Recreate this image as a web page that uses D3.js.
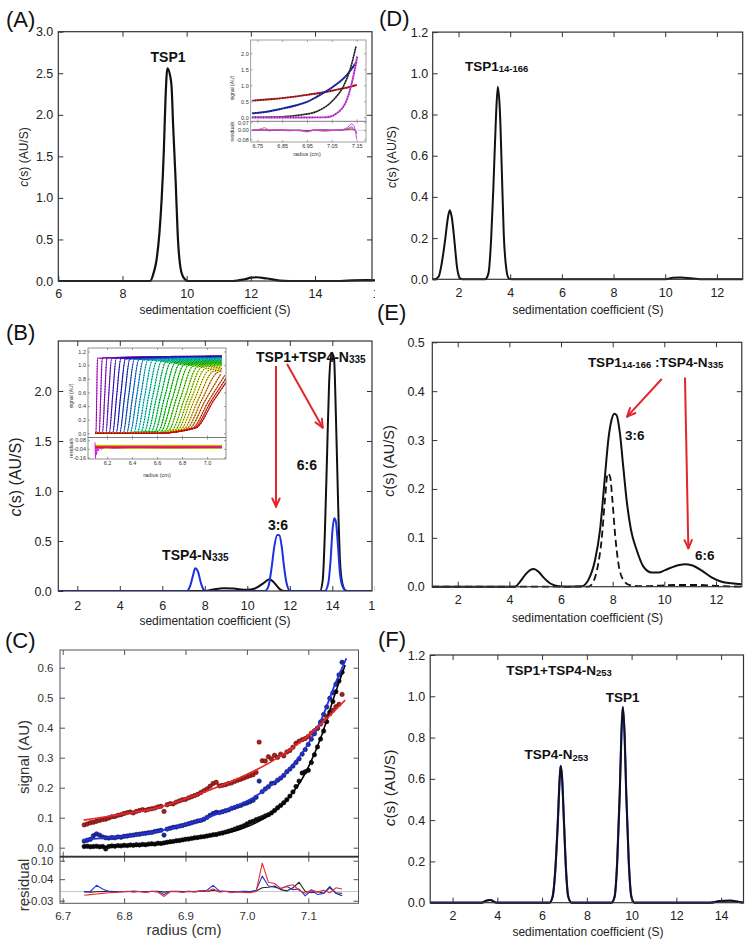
<!DOCTYPE html>
<html><head><meta charset="utf-8">
<script src="https://cdn.jsdelivr.net/npm/d3@7/dist/d3.min.js"></script>
<style>html,body{margin:0;padding:0;background:#fff;}svg{display:block}</style>
</head><body>
<svg id="fig" width="751" height="943" xmlns="http://www.w3.org/2000/svg"></svg>
<script>
// ================= DATA =================
// (A) c(s) distribution, TSP1  [s (S), c(s)]
const csA = [[6,0],[8.86,0],[8.98,0.11],[9.06,0.25],[9.15,0.57],[9.22,0.98],[9.29,1.58],[9.34,2.18],[9.40,2.56],[9.48,2.48],[9.53,2.34],[9.58,1.86],[9.66,1.18],[9.72,0.57],[9.79,0.21],[9.89,0.05],[10.05,0],[11.45,0],[11.8,0.02],[12.02,0.04],[12.18,0.045],[12.5,0.03],[12.9,0.005],[13.2,0],[14.8,0],[15.2,0.008],[15.6,0.01],[16,0.006]];
// (A) inset: radius vs signal
const insAred = [[6.73,0.52],[6.80,0.565],[6.85,0.60],[6.90,0.645],[6.95,0.70],[7.00,0.76],[7.05,0.83],[7.10,0.91],[7.15,1.01]];
const insAblue = [[6.73,0.125],[6.80,0.19],[6.855,0.28],[6.90,0.36],[6.95,0.48],[6.989,0.64],[7.056,0.96],[7.11,1.32],[7.15,1.74]];
const insAblack = [[6.73,0.0],[6.85,0.02],[6.922,0.07],[6.989,0.18],[7.056,0.54],[7.096,0.96],[7.123,1.48],[7.147,2.21]];
const insAmag = [[6.73,-0.01],[6.95,-0.005],[7.029,0.0],[7.07,0.125],[7.11,0.54],[7.13,1.06],[7.147,1.69],[7.152,1.9]];
const insAresR = [6.73,6.76,6.78,6.80,6.84,6.88,6.92,6.95,6.98,7.02,7.06,7.09,7.11,7.13,7.14,7.15];
const insAresRed = [0,0.01,0.022,0.0,0.005,0,-0.005,-0.015,0.0,-0.01,0.0,0.005,0.01,0.02,0.0,-0.01];
const insAresMag = [0.005,0,0,0.005,0,-0.005,0,-0.01,0.005,0,0,0.005,0.02,0.055,0.035,-0.08];
const insAresBlue = [0,0.005,0,-0.005,0.005,0,0,-0.01,0,0.005,0,0,0.01,0.03,0.01,-0.03];
const insAresBlack = [0,0,0.003,0,0,0,0,-0.003,0,0,0,0.003,0.005,0.01,0.0,-0.02];

// (B) c(s) TSP1+TSP4-N335 (black) and TSP4-N335 (blue)
const csBblack = [[1.1,0],[7.9,0],[8.4,0.015],[8.87,0.027],[9.34,0.024],[9.97,0.012],[10.36,0.025],[10.75,0.077],[11.04,0.117],[11.22,0.093],[11.54,0.017],[11.77,0],[13.42,0],[13.55,0.11],[13.65,0.58],[13.76,1.41],[13.85,2.08],[13.97,2.38],[14.08,2.33],[14.17,1.75],[14.27,0.91],[14.36,0.31],[14.47,0.077],[14.64,0.003],[14.8,0],[16,0]];
const csBblue = [[1.1,0],[7.15,0],[7.30,0.043],[7.43,0.143],[7.55,0.227],[7.68,0.193],[7.82,0.077],[7.96,0.01],[8.12,0],[10.83,0],[10.99,0.043],[11.15,0.243],[11.27,0.443],[11.41,0.56],[11.51,0.557],[11.62,0.443],[11.73,0.243],[11.85,0.077],[12.01,0.003],[12.2,0],[13.65,0],[13.81,0.077],[13.92,0.31],[14.01,0.61],[14.09,0.727],[14.17,0.693],[14.27,0.443],[14.36,0.177],[14.49,0.043],[14.68,0],[16,0]];
// (B) inset: sedimentation velocity scans (read per scan)
const scanMid = [6.118,6.150,6.182,6.214,6.246,6.278,6.310,6.342,6.374,6.406,6.438,6.470,6.502,6.534,6.566,6.598,6.630,6.662,6.694,6.726,6.758,6.790,6.822,6.850,6.875,6.902,6.930,6.958,6.985,7.012,7.032,7.050];
const scanHalfWidth = [0.006,0.012,0.018,0.023,0.028,0.033,0.037,0.041,0.045,0.049,0.053,0.057,0.061,0.065,0.069,0.073,0.077,0.081,0.085,0.089,0.093,0.097,0.101,0.105,0.109,0.113,0.117,0.121,0.125,0.129,0.133,0.137];
const scanPlateau = [1.13,1.135,1.135,1.13,1.13,1.125,1.12,1.12,1.115,1.11,1.105,1.10,1.095,1.09,1.08,1.07,1.06,1.05,1.04,1.03,1.02,1.01,1.00,0.99,0.97,0.95,0.93,0.91,0.89,0.87,0.86,0.86];
const scanBase = [0,0,0,0,0,0,0,0,0,0,0,0,0.005,0.008,0.012,0.016,0.02,0.024,0.028,0.032,0.036,0.04,0.044,0.048,0.052,0.056,0.06,0.064,0.068,0.072,0.076,0.08];
const scanResOffset = [-0.01,-0.02,-0.005,-0.015,0.0,-0.025,-0.01,0.005,-0.02,-0.03,-0.01,0.0,-0.015,-0.025,0.005,-0.01,-0.02,-0.03,0.0,-0.015,-0.005,-0.025,-0.01,0.008,-0.02,-0.03,-0.005,-0.015,0.0,-0.025,-0.01,-0.02];
const scanResFirstR = [6.104,6.108,6.112,6.116,6.122,6.13,6.14,6.155,6.18,6.25,6.4,6.7,7.118];
const scanResFirstV = [0.05,-0.17,-0.02,-0.12,-0.03,-0.07,-0.02,-0.045,-0.015,-0.03,-0.02,-0.025,-0.02];

// (C) absorbance data, fits and residuals
const cRadius = [6.735,6.740,6.745,6.750,6.755,6.760,6.765,6.770,6.775,6.780,
6.785,6.790,6.795,6.800,6.805,6.810,6.815,6.820,6.825,6.830,
6.835,6.840,6.845,6.850,6.855,6.860,6.865,6.870,6.875,6.880,
6.885,6.890,6.895,6.900,6.905,6.910,6.915,6.920,6.925,6.930,
6.935,6.940,6.945,6.950,6.955,6.960,6.965,6.970,6.975,6.980,
6.985,6.990,6.995,7.000,7.005,7.010,7.015,7.020,7.025,7.030,
7.035,7.040,7.045,7.050,7.055,7.060,7.065,7.070,7.075,7.080,
7.085,7.090,7.095,7.100,7.105,7.110,7.115,7.120,7.125,7.130,
7.135,7.140,7.145,7.150,7.155];
const cRedDots = [0.076,0.079,0.083,0.085,0.088,0.091,0.094,0.095,0.099,0.103,
0.104,0.108,0.110,0.114,0.117,0.119,0.116,0.121,0.124,0.127,
0.125,0.128,0.130,0.132,0.136,0.138,0.121,0.143,0.147,0.146,
0.152,0.156,0.160,0.161,0.166,0.170,0.174,0.178,0.184,0.190,
0.196,0.205,0.214,0.218,0.206,0.208,0.210,0.214,0.216,0.221,
0.225,0.228,0.232,0.236,0.240,0.243,0.251,0.352,0.290,0.289,
0.303,0.296,0.308,0.301,0.312,0.306,0.319,0.324,0.335,0.348,
0.355,0.360,0.364,0.371,0.382,0.390,0.398,0.412,0.423,0.437,
0.446,0.458,0.470,0.478,0.511];
const cBlueDots = [0.022,0.025,0.028,0.040,0.046,0.042,0.036,0.033,0.032,0.034,
0.033,0.036,0.035,0.038,0.039,0.041,0.042,0.044,0.045,0.047,
0.048,0.050,0.051,0.054,0.056,0.058,0.042,0.062,0.065,0.068,
0.069,0.072,0.074,0.077,0.080,0.083,0.086,0.089,0.091,0.095,
0.101,0.108,0.114,0.118,0.117,0.120,0.123,0.126,0.131,0.134,
0.138,0.141,0.146,0.149,0.153,0.158,0.168,0.222,0.187,0.196,
0.203,0.214,0.216,0.225,0.232,0.241,0.253,0.262,0.272,0.284,
0.296,0.312,0.327,0.344,0.362,0.380,0.398,0.419,0.444,0.469,
0.498,0.516,0.545,0.576,0.618];
const cBlackDots = [0.004,0.005,0.003,0.004,0.005,0.003,0.004,-0.004,0.004,0.006,
0.005,0.007,0.006,0.008,0.007,0.009,0.008,0.010,0.009,0.011,
0.010,0.012,0.013,0.012,0.015,0.014,0.016,0.018,0.020,0.021,
0.023,0.024,0.026,0.028,0.029,0.031,0.033,0.034,0.036,0.037,
0.039,0.041,0.043,0.044,0.047,0.049,0.052,0.055,0.058,0.062,
0.066,0.069,0.073,0.079,0.085,0.088,0.093,0.097,0.101,0.106,
0.110,0.116,0.124,0.133,0.141,0.150,0.160,0.172,0.186,0.204,
0.222,0.249,0.253,0.258,0.284,0.310,0.336,0.362,0.389,0.420,
0.452,0.487,0.520,0.556,0.585];
const cRedFit = [[6.734,0.092],[6.80,0.113],[6.85,0.131],[6.932,0.187],[6.986,0.231],[7.04,0.287],[7.095,0.365],[7.122,0.415],[7.16,0.492]];
const cBlueFit = [[6.734,0.026],[6.755,0.030],[6.80,0.038],[6.85,0.053],[6.932,0.098],[6.986,0.142],[7.013,0.170],[7.04,0.209],[7.067,0.259],[7.095,0.331],[7.122,0.431],[7.143,0.542],[7.162,0.631]];
const cBlackFit = [[6.734,0.003],[6.80,0.006],[6.85,0.011],[6.932,0.037],[6.986,0.059],[7.013,0.081],[7.04,0.114],[7.067,0.164],[7.095,0.248],[7.122,0.376],[7.143,0.509],[7.16,0.609]];
const cResR = [6.735,6.745,6.755,6.765,6.775,6.785,6.795,6.805,6.815,6.825,6.835,6.845,6.855,6.865,6.875,6.885,6.895,6.905,6.915,6.925,6.935,6.945,6.955,6.965,6.975,6.985,6.995,7.005,7.015,7.025,7.035,7.045,7.055,7.065,7.075,7.085,7.095,7.105,7.115,7.125,7.135,7.145,7.155];
const cResRed = [-0.012,-0.010,-0.008,-0.006,-0.004,-0.003,-0.001,0.001,-0.002,0.000,-0.003,0.001,-0.002,-0.016,-0.001,0.000,-0.003,0.001,-0.002,0.002,0.000,0.008,-0.002,0.001,-0.004,0.000,-0.003,-0.004,0.000,0.092,0.030,0.026,0.010,0.018,0.022,0.004,-0.006,0.006,-0.002,0.004,-0.004,0.012,0.008];
const cResBlue = [-0.002,0.000,0.020,0.008,0.000,-0.002,0.000,-0.001,0.001,0.000,-0.002,0.001,0.000,-0.010,0.001,0.000,-0.001,0.001,0.000,0.002,0.004,0.020,0.002,0.001,0.000,-0.002,0.000,-0.002,0.004,0.050,0.018,0.014,0.010,0.016,0.006,0.008,-0.014,0.004,-0.010,-0.006,0.012,-0.004,-0.006];
const cResBlack = [0.000,-0.002,-0.001,0.000,0.001,0.000,-0.001,0.000,0.001,0.000,-0.001,0.000,0.001,-0.002,0.000,0.001,0.000,-0.001,0.000,0.001,0.000,0.004,0.001,0.000,-0.001,0.000,0.001,0.000,0.002,0.012,0.014,0.018,0.006,0.002,0.012,0.030,0.000,-0.004,0.000,-0.006,0.016,-0.006,-0.014];

// (D) TSP1 14-166
const csD = [[1.0,0],[1.07,0],[1.23,0.013],[1.35,0.078],[1.48,0.19],[1.59,0.30],[1.66,0.335],[1.74,0.30],[1.85,0.175],[1.94,0.06],[2.04,0.008],[2.15,0],[3.03,0],[3.16,0.03],[3.26,0.19],[3.35,0.45],[3.45,0.79],[3.52,0.935],[3.60,0.82],[3.68,0.51],[3.75,0.22],[3.84,0.06],[3.94,0.005],[4.06,0],[10.0,0],[10.3,0.007],[10.6,0.009],[11.0,0.005],[11.5,0],[13,0]];
// (E) TSP1 14-166 : TSP4-N335 (solid) and reference (dashed)
const csEsolid = [[1,0],[4.22,0],[4.41,0.01],[4.61,0.024],[4.80,0.034],[4.95,0.036],[5.12,0.031],[5.32,0.019],[5.57,0.007],[5.90,0.001],[6.22,0],[6.80,0.001],[7.06,0.014],[7.32,0.055],[7.51,0.116],[7.70,0.225],[7.83,0.30],[7.96,0.342],[8.06,0.354],[8.15,0.351],[8.28,0.314],[8.41,0.245],[8.54,0.177],[8.71,0.116],[8.93,0.075],[9.19,0.041],[9.51,0.029],[9.77,0.029],[10.03,0.034],[10.41,0.042],[10.80,0.046],[11.06,0.044],[11.45,0.033],[11.83,0.019],[12.22,0.01],[12.61,0.007],[13.0,0.005]];
const csEdash = [[1,0],[7.06,0],[7.25,0.01],[7.42,0.041],[7.57,0.095],[7.70,0.177],[7.81,0.232],[7.90,0.225],[7.99,0.177],[8.09,0.109],[8.22,0.048],[8.41,0.014],[8.67,0.003],[9.12,0.001],[9.77,0.002],[10.41,0.0035],[11.32,0.0035],[12.09,0.0015],[13,0]];
// (F) TSP1+TSP4-N253
const csF = [[1,0],[3.29,0],[3.51,0.01],[3.69,0.013],[3.88,0.003],[4.03,0],[6.33,0],[6.47,0.029],[6.59,0.158],[6.70,0.384],[6.79,0.61],[6.83,0.663],[6.89,0.61],[6.98,0.384],[7.07,0.158],[7.17,0.029],[7.32,0],[9.10,0],[9.24,0.029],[9.36,0.206],[9.47,0.529],[9.54,0.803],[9.61,0.948],[9.69,0.803],[9.76,0.529],[9.87,0.206],[9.99,0.029],[10.13,0],[13.51,0],[13.96,0.008],[14.4,0.01],[14.84,0.003],[15,0]];

// Tick values
const ticksA_x = [6,8,10,12,14,16], ticksA_y = [0,0.5,1,1.5,2,2.5,3];
const ticksB_x = [2,4,6,8,10,12,14,16], ticksB_y = [0,0.5,1,1.5,2];
const ticksDE_x = [2,4,6,8,10,12];
const ticksD_y = [0,0.2,0.4,0.6,0.8,1.0,1.2], ticksE_y = [0,0.1,0.2,0.3,0.4,0.5];
const ticksF_x = [2,4,6,8,10,12,14], ticksF_y = [0,0.2,0.4,0.6,0.8,1.0,1.2];
const ticksC_x = [6.7,6.8,6.9,7.0,7.1], ticksC_y = [0,0.1,0.2,0.3,0.4,0.5,0.6], ticksC_res = [0.10,0.04,-0.03];
const ticksIA_x = [6.75,6.85,6.95,7.05,7.15], ticksIA_y = [0,0.5,1.0,1.5,2.0], ticksIA_res = [0.07,0.00,-0.08];
const ticksIB_x = [6.2,6.4,6.6,6.8,7.0], ticksIB_y = [0,0.2,0.4,0.6,0.8,1.0,1.2], ticksIB_res = [0.08,-0.04,-0.16];

// ================= DRAWING =================
const svg = d3.select('#fig');
const F = '"Liberation Sans", Arial, Helvetica, sans-serif';
const defs = svg.append('defs');
svg.append('rect').attr('width',751).attr('height',943).attr('fill','#fff');
function clip(id,x,y,w,h){defs.append('clipPath').attr('id',id).append('rect').attr('x',x).attr('y',y).attr('width',w).attr('height',h);return `url(#${id})`;}
const hy = v => String(v).replace('\u2212','-');
const fmt = f => v => hy(d3.format(f)(v));

function axes(g,o){
  const {x,y,box,fs,tl} = o;
  const col = o.color||'#333', lab = o.labelColor||'#222';
  g.append('rect').attr('x',box.l).attr('y',box.t).attr('width',box.r-box.l).attr('height',box.b-box.t)
    .attr('fill','none').attr('stroke',col).attr('stroke-width',o.fw||1.2);
  const xin = o.xt.filter(v=>x(v)>box.l+0.5&&x(v)<box.r-0.5);
  const yin = o.yt.filter(v=>y(v)>box.t+0.5&&y(v)<box.b-0.5);
  const parts = [];
  parts.push(g.append('g').attr('transform',`translate(0,${box.b})`)
    .call(d3.axisBottom(x).tickValues(o.xLab===false?xin:o.xt).tickFormat(o.xLab===false?()=>'':o.xf).tickSizeInner(-tl).tickSizeOuter(0).tickPadding(o.xpad||6)));
  parts.push(g.append('g').attr('transform',`translate(0,${box.t})`)
    .call(d3.axisTop(x).tickValues(xin).tickFormat(()=>'').tickSizeInner(-tl).tickSizeOuter(0)));
  parts.push(g.append('g').attr('transform',`translate(${box.l},0)`)
    .call(d3.axisLeft(y).tickValues(o.yt).tickFormat(o.yf).tickSizeInner(-tl).tickSizeOuter(0).tickPadding(o.ypad||5)));
  parts.push(g.append('g').attr('transform',`translate(${box.r},0)`)
    .call(d3.axisRight(y).tickValues(yin).tickFormat(()=>'').tickSizeInner(-tl).tickSizeOuter(0)));
  parts.forEach(s=>{
    s.attr('font-size',null).attr('font-family',null);
    s.select('.domain').remove();
    s.selectAll('line').attr('stroke',col).attr('stroke-width',o.tw||1);
    s.selectAll('text').attr('fill',lab).attr('font-size',fs).attr('font-family',F);
  });
}
function line(g,x,y,data,st){
  return g.append('path').datum(data)
    .attr('d',d3.line().x(d=>x(d[0])).y(d=>y(d[1])).curve(st.curve||d3.curveMonotoneX))
    .attr('fill','none').attr('stroke',st.color).attr('stroke-width',st.w||2)
    .attr('stroke-dasharray',st.dash||null).attr('stroke-linejoin','round').attr('stroke-linecap',st.cap||'butt')
    .attr('opacity',st.op||1);
}
function text(g,x,y,s,o={}){
  const t = g.append('text').attr('font-family',F).attr('font-size',o.fs||12).attr('fill',o.fill||'#222')
    .attr('text-anchor',o.anchor||'start').text(s);
  if(o.bold) t.attr('font-weight','bold');
  if(o.rot) t.attr('transform',`translate(${x},${y}) rotate(-90)`); else t.attr('x',x).attr('y',y);
  return t;
}
function csTitle(g,x,y,fs){
  const t = g.append('text').attr('transform',`translate(${x},${y}) rotate(-90)`).attr('text-anchor','middle')
    .attr('font-family',F).attr('font-size',fs).attr('fill','#222');
  t.append('tspan').attr('font-style','italic').text('c');
  t.append('tspan').text('(s) (AU/S)');
}
function rich(g,x,y,parts,fs,sfs){
  const t = g.append('text').attr('x',x).attr('y',y).attr('font-family',F).attr('font-weight','bold')
    .attr('font-size',fs).attr('fill','#111');
  let low=false;
  parts.forEach(([s,sub])=>{
    const ts=t.append('tspan').text(s);
    if(sub){ ts.attr('font-size',sfs); if(!low){ts.attr('dy',1.2);low=true;} }
    else if(low){ ts.attr('dy',-1.2); low=false; }
  });
}
function arrow(g,x1,y1,x2,y2){
  const col='#e3262c';
  g.append('line').attr('x1',x1).attr('y1',y1).attr('x2',x2).attr('y2',y2).attr('stroke',col).attr('stroke-width',2);
  const a=Math.atan2(y2-y1,x2-x1), L=9, sp=0.42;
  [a+Math.PI-sp,a+Math.PI+sp].forEach(b=>g.append('line').attr('x1',x2).attr('y1',y2)
    .attr('x2',x2+L*Math.cos(b)).attr('y2',y2+L*Math.sin(b)).attr('stroke',col).attr('stroke-width',2).attr('stroke-linecap','round'));
}
function panelLabel(x,y,s){ text(svg,x,y,s,{fs:22,fill:'#111'}); }
function dotted(g,x,y,data,col,dotCol,w,dw){
  line(g,x,y,data,{color:col,w:w||1.4});
  line(g,x,y,data,{color:dotCol,w:dw||1.1,dash:'0.9 1.8',op:0.85});
}

// ---------------- Panel A ----------------
{
  const g = svg.append('g').attr('clip-path',clip('clipA',0,0,375,325));
  const x = d3.scaleLinear().domain([6,14]).range([58.3,315]);
  const y = d3.scaleLinear().domain([0,3]).range([281,31.7]);
  const box = {l:58.3,r:372,t:31.7,b:281};
  line(g,x,y,csA,{color:'#111',w:2.2});
  axes(g,{x,y,box,xt:ticksA_x,yt:ticksA_y,xf:fmt('d'),yf:fmt('.1f'),fs:12.5,tl:5,xpad:8,ypad:5});
  text(g,x(9.42),y(2.64),'TSP1',{fs:14,bold:true,anchor:'middle',fill:'#111'});
  csTitle(g,27.6,157,12);
  text(g,215,314,'sedimentation coefficient (S)',{fs:12,anchor:'middle'});

  // inset
  const ib = {l:250.7,r:366,t:40,m:121.3,b:142};
  const ix = d3.scaleLinear().domain([6.75,7.15]).range([257.3,356.7]);
  const iy = d3.scaleLinear().domain([0,2]).range([117.3,53.3]);
  const iry = d3.scaleLinear().domain([-0.08,0.07]).range([139.3,122.3]);
  g.append('rect').attr('x',ib.l).attr('y',ib.t).attr('width',ib.r-ib.l).attr('height',ib.b-ib.t).attr('fill','#fff');
  const gs = g.append('g').attr('clip-path',clip('clipIA',ib.l,ib.t,ib.r-ib.l,ib.m-ib.t));
  dotted(gs,ix,iy,insAred,'#b82420','#2a0808',1.9,1.4);
  dotted(gs,ix,iy,insAblue,'#2532b0','#080c38',1.9,1.4);
  dotted(gs,ix,iy,insAblack,'#444','#000',1.5,1.4);
  dotted(gs,ix,iy,insAmag,'#d84ee0','#4a1478',1.9,1.4);
  const gr = g.append('g').attr('clip-path',clip('clipIAr',ib.l,ib.m,ib.r-ib.l,ib.b-ib.m));
  gr.append('line').attr('x1',ib.l).attr('x2',ib.r).attr('y1',iry(0)).attr('y2',iry(0)).attr('stroke','#bbb').attr('stroke-width',0.7);
  const pr = v => insAresR.map((r,i)=>[r,v[i]]);
  line(gr,ix,iry,pr(insAresBlack),{color:'#333',w:0.9});
  line(gr,ix,iry,pr(insAresBlue),{color:'#4a50d0',w:0.9});
  line(gr,ix,iry,pr(insAresRed),{color:'#f05a5a',w:0.9});
  line(gr,ix,iry,pr(insAresMag),{color:'#d040e0',w:1});
  axes(g,{x:ix,y:iy,box:{l:ib.l,r:ib.r,t:ib.t,b:ib.m},xt:ticksIA_x,yt:ticksIA_y,xLab:false,yf:fmt('.1f'),fs:5.5,tl:2,ypad:2,color:'#888',labelColor:'#333',fw:0.8,tw:0.7});
  axes(g,{x:ix,y:iry,box:{l:ib.l,r:ib.r,t:ib.m,b:ib.b},xt:ticksIA_x,yt:ticksIA_res,xf:fmt('.2f'),yf:fmt('.2f'),fs:5.5,tl:2,xpad:2,ypad:2,color:'#888',labelColor:'#333',fw:0.8,tw:0.7});
  text(g,233.5,88,'signal (AU)',{fs:5,rot:true,anchor:'middle',fill:'#333'});
  text(g,233.5,131.5,'residuals',{fs:5,rot:true,anchor:'middle',fill:'#333'});
  text(g,307,156,'radius (cm)',{fs:5.5,anchor:'middle',fill:'#333'});
}
panelLabel(6,27,'(A)');

// ---------------- Panel B ----------------
{
  const g = svg.append('g').attr('clip-path',clip('clipB',0,325,375,310));
  const x = d3.scaleLinear().domain([2,14]).range([77.3,332.3]);
  const y = d3.scaleLinear().domain([0,2.5]).range([591,341]);
  const box = {l:58.3,r:372,t:341,b:591};
  const gc = g.append('g').attr('clip-path',clip('clipBc',box.l,box.t,box.r-box.l,box.b-box.t));
  line(gc,x,y,csBblack,{color:'#111',w:2});
  line(gc,x,y,csBblue,{color:'#1f30e0',w:2});
  axes(g,{x,y,box,xt:ticksB_x,yt:ticksB_y,xf:fmt('d'),yf:fmt('.1f'),fs:12.5,tl:5,xpad:10.5,ypad:6.5});
  csTitle(g,20.5,477,16);
  text(g,215,625,'sedimentation coefficient (S)',{fs:12,anchor:'middle'});
  rich(g,x(10.41),y(2.29),[['TSP1+TSP4-N'],['335',1]],14,10);
  rich(g,x(12.33),y(1.21),[['6:6']],14,10);
  rich(g,x(10.97),y(0.61),[['3:6']],14,10);
  rich(g,x(5.99),y(0.31),[['TSP4-N'],['335',1]],14,10);
  arrow(g,x(11.35),y(2.25),x(11.35),y(0.843));
  arrow(g,x(11.87),y(2.27),x(13.55),y(1.633));

  // inset
  const ib = {l:88,r:226,t:348,m:437.5,b:459};
  const ix = d3.scaleLinear().domain([6.2,7.0]).range([107,207]);
  const iy = d3.scaleLinear().domain([0,1.2]).range([433.3,351.5]);
  const iry = d3.scaleLinear().domain([-0.16,0.08]).range([457.5,440.2]);
  g.append('rect').attr('x',ib.l).attr('y',ib.t).attr('width',ib.r-ib.l).attr('height',ib.b-ib.t).attr('fill','#fff');
  const gs = g.append('g').attr('clip-path',clip('clipIB',ib.l,ib.t,ib.r-ib.l,ib.m-ib.t));
  const rStart = 6.104, rEnd = 7.118;
  const n = scanMid.length;
  const colr = i => d3.hsl(295*(1-i/(n-1)),0.95,0.47).toString();
  scanMid.forEach((m,i)=>{
    const w = scanHalfWidth[i], p = scanPlateau[i], b = scanBase[i];
    const foot = m-w, top = m+w;
    const pts = [];
    if(foot > rStart+0.004){ pts.push([rStart,0]); if(foot>6.62) pts.push([6.6,0]); }
    pts.push([Math.max(foot,rStart),b]);
    pts.push([m,(p+b)/2]);
    pts.push([top,p*0.975]);
    if(top < rEnd-0.01) pts.push([rEnd,p]);
    dotted(gs,ix,iy,pts,colr(i),'#222',1.1);
  });
  const gr = g.append('g').attr('clip-path',clip('clipIBr',ib.l,ib.m,ib.r-ib.l,ib.b-ib.m));
  scanResOffset.forEach((v,i)=>{
    gr.append('line').attr('x1',ix(rStart)).attr('x2',ix(rEnd)).attr('y1',iry(v)).attr('y2',iry(v))
      .attr('stroke',colr(i)).attr('stroke-width',1.1).attr('opacity',0.9);
  });
  line(gr,ix,iry,scanResFirstR.map((r,i)=>[r,scanResFirstV[i]]),{color:colr(0),w:0.9,curve:d3.curveLinear});
  axes(g,{x:ix,y:iy,box:{l:ib.l,r:ib.r,t:ib.t,b:ib.m},xt:ticksIB_x,yt:ticksIB_y,xLab:false,yf:fmt('.1f'),fs:5.5,tl:2,ypad:2,color:'#777',labelColor:'#333',fw:0.8,tw:0.7});
  axes(g,{x:ix,y:iry,box:{l:ib.l,r:ib.r,t:ib.m,b:ib.b},xt:ticksIB_x,yt:ticksIB_res,xf:fmt('.1f'),yf:fmt('.2f'),fs:5.5,tl:2,xpad:2.5,ypad:2,color:'#777',labelColor:'#333',fw:0.8,tw:0.7});
  text(g,72.5,396,'signal (AU)',{fs:5,rot:true,anchor:'middle',fill:'#333'});
  text(g,72.5,448,'residuals',{fs:5,rot:true,anchor:'middle',fill:'#333'});
  text(g,157,476.5,'radius (cm)',{fs:5.5,anchor:'middle',fill:'#333'});
}
panelLabel(6,340,'(B)');

// ---------------- Panel C ----------------
{
  const g = svg.append('g');
  const x = d3.scaleLinear().domain([6.7,7.1]).range([62.7,308.3]);
  const y = d3.scaleLinear().domain([0,0.6]).range([847.7,667.7]);
  const yr = d3.scaleLinear().domain([0,0.1]).range([891.5,860.7]);
  const top = {l:60,r:358.5,t:650,b:856.7}, bot = {l:60,r:358.5,t:856.7,b:903.3};
  const gs = g.append('g').attr('clip-path',clip('clipC',top.l,top.t,top.r-top.l,top.b-top.t));
  const dots = (vals,fill,stroke)=>gs.append('g').selectAll('circle').data(cRadius.map((r,i)=>[r,vals[i]])).join('circle')
      .attr('cx',d=>x(d[0])).attr('cy',d=>y(d[1])).attr('r',2.2).attr('fill',fill).attr('stroke',stroke).attr('stroke-width',0.6);
  dots(cBlackDots,'#111','#000');
  dots(cBlueDots,'#1a2aa8','#0a1060');
  dots(cRedDots,'#a8201c','#5a0c0a');
  line(gs,x,y,cBlackFit,{color:'#000',w:1.6});
  line(gs,x,y,cBlueFit,{color:'#2433d8',w:1.8});
  line(gs,x,y,cRedFit,{color:'#e8282a',w:1.6});
  const gr = g.append('g').attr('clip-path',clip('clipCr',bot.l,bot.t,bot.r-bot.l,bot.b-bot.t));
  gr.append('line').attr('x1',bot.l).attr('x2',bot.r).attr('y1',yr(0)).attr('y2',yr(0)).attr('stroke','#c8c8c8').attr('stroke-width',1);
  const pr = v => cResR.map((r,i)=>[r,v[i]]);
  line(gr,x,yr,pr(cResBlack),{color:'#222',w:1.1,curve:d3.curveLinear});
  line(gr,x,yr,pr(cResBlue),{color:'#2433e0',w:1.1,curve:d3.curveLinear});
  line(gr,x,yr,pr(cResRed),{color:'#ee2a2a',w:1.1,curve:d3.curveLinear});
  axes(g,{x,y,box:top,xt:ticksC_x,yt:ticksC_y,xLab:false,yf:fmt('.1f'),fs:11.5,tl:5,ypad:6.5,color:'#555',labelColor:'#333',fw:1});
  axes(g,{x,y:yr,box:bot,xt:ticksC_x,yt:ticksC_res,xf:fmt('.1f'),yf:v=>v===0.10?'0.10':fmt('.2f')(v),fs:11.5,tl:5,xpad:8.5,ypad:6.5,color:'#555',labelColor:'#333',fw:1});
  g.append('line').attr('x1',top.l).attr('x2',top.r).attr('y1',top.b).attr('y2',top.b).attr('stroke','#333').attr('stroke-width',1.8);
  text(g,28.7,757,'signal (AU)',{fs:15,rot:true,anchor:'middle',fill:'#333'});
  text(g,28.7,885,'residual',{fs:15,rot:true,anchor:'middle',fill:'#333'});
  text(g,184,935,'radius (cm)',{fs:15,anchor:'middle',fill:'#333'});
}
panelLabel(5,648,'(C)');

// ---------------- Panel D ----------------
{
  const g = svg.append('g');
  const x = d3.scaleLinear().domain([1,13]).range([432.7,742.7]);
  const y = d3.scaleLinear().domain([0,1.2]).range([279.3,32.1]);
  const box = {l:432.7,r:742.7,t:32.1,b:279.3};
  line(g,x,y,csD,{color:'#111',w:2});
  axes(g,{x,y,box,xt:ticksDE_x,yt:ticksD_y,xf:fmt('d'),yf:fmt('.1f'),fs:12.5,tl:5,xpad:8.5,ypad:4.5});
  csTitle(g,395.5,157,12.5);
  text(g,588,314,'sedimentation coefficient (S)',{fs:12,anchor:'middle'});
  rich(g,x(2.25),y(1.01),[['TSP1'],['14-166',1]],13.5,9.5);
}
panelLabel(379,26,'(D)');

// ---------------- Panel E ----------------
{
  const g = svg.append('g');
  const x = d3.scaleLinear().domain([1,13]).range([431.9,741.8]);
  const y = d3.scaleLinear().domain([0,0.5]).range([586.7,342.3]);
  const box = {l:432.3,r:741.8,t:342.3,b:586.7};
  line(g,x,y,csEdash,{color:'#111',w:1.8,dash:'7 4'});
  line(g,x,y,csEsolid,{color:'#111',w:2});
  axes(g,{x,y,box,xt:ticksDE_x,yt:ticksE_y,xf:fmt('d'),yf:fmt('.1f'),fs:12.5,tl:5,xpad:8.4,ypad:7.5});
  csTitle(g,393.8,461,14.5);
  text(g,587.5,622,'sedimentation coefficient (S)',{fs:12,anchor:'middle'});
  rich(g,x(7.04),y(0.45),[['TSP1'],['14-166',1],[' :TSP4-N'],['335',1]],13.5,9.5);
  rich(g,x(8.48),y(0.30),[['3:6']],13.5,9.5);
  rich(g,x(11.19),y(0.0545),[['6:6']],13.5,9.5);
  arrow(g,x(9.9),y(0.425),x(8.56),y(0.348));
  arrow(g,x(10.8),y(0.428),x(10.93),y(0.0785));
}
panelLabel(377,320,'(E)');

// ---------------- Panel F ----------------
{
  const g = svg.append('g');
  const x = d3.scaleLinear().domain([1,15]).range([430.2,743.5]);
  const y = d3.scaleLinear().domain([0,1.2]).range([902.7,655]);
  const box = {l:430.2,r:743.5,t:655,b:902.7};
  line(g,x,y,csF,{color:'#3040e0',w:2.2});
  line(g,x,y,csF,{color:'#111',w:1.9});
  axes(g,{x,y,box,xt:ticksF_x,yt:ticksF_y,xf:fmt('d'),yf:fmt('.1f'),fs:12.5,tl:5,xpad:8.4,ypad:5});
  csTitle(g,394.5,788,15.5);
  text(g,588,935.5,'sedimentation coefficient (S)',{fs:12,anchor:'middle'});
  rich(g,x(4.4),y(1.103),[['TSP1+TSP4-N'],['253',1]],13.5,9.5);
  rich(g,x(8.84),y(0.973),[['TSP1']],13.5,9.5);
  rich(g,x(5.21),y(0.694),[['TSP4-N'],['253',1]],13.5,9.5);
}
panelLabel(378,647,'(F)');
</script></body></html>
